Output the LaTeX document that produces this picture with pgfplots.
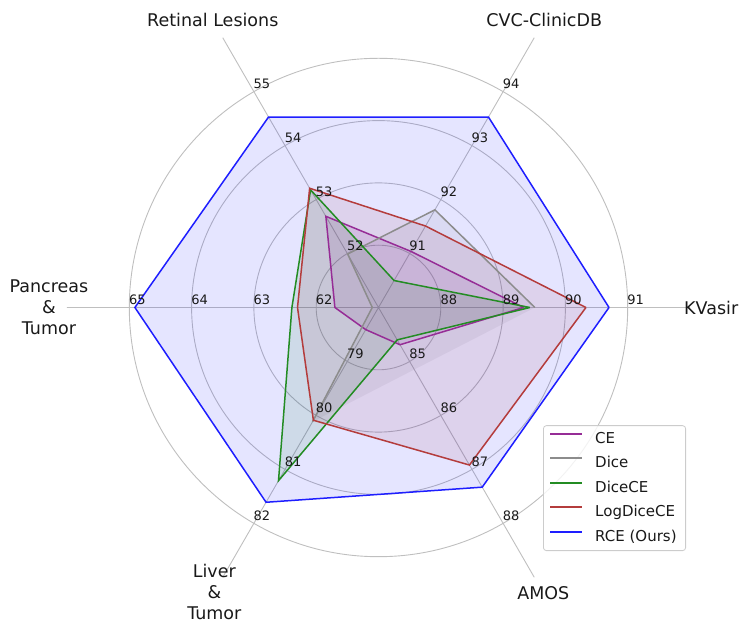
\documentclass[border=0pt]{standalone}
\usepackage{pgfplots}
\pgfplotsset{compat=1.18}
\usepgfplotslibrary{polar}
\usepackage{pgfplotstable}
\usepackage{fontspec}
\setmainfont{DejaVu Sans}

\definecolor{cCE}{RGB}{128,0,128}
\definecolor{cDice}{RGB}{128,128,128}
\definecolor{cDiceCE}{RGB}{0,128,0}
\definecolor{cLog}{RGB}{165,42,42}
\definecolor{cRCE}{RGB}{0,0,255}
\definecolor{lCE}{RGB}{150,45,150}
\definecolor{lDice}{RGB}{140,140,140}
\definecolor{lDiceCE}{RGB}{35,140,35}
\definecolor{lLog}{RGB}{180,60,60}
\definecolor{lRCE}{RGB}{30,30,255}
\definecolor{txt}{RGB}{25,25,25}

% Scores per dataset; each spoke has its own scale starting at "base"
% (one ring = one point). The first row is repeated to close the polygons.
\pgfplotstableread{
ang base CE    Dice  DiceCE LogDiceCE RCE
0   87   89.33 89.51 89.43  90.33     90.70
60  90   91.04 91.81 90.50  91.51     93.53
120 51   52.69 51.99 53.18  53.21     54.53
180 61   61.70 61.10 62.39  62.30     64.91
240 78   78.41 80.12 81.21  80.09     81.61
300 84   84.69 83.60 84.60  86.92     87.33
0   87   89.33 89.51 89.43  90.33     90.70
}\scores

\begin{document}
\begin{tikzpicture}
\path[use as bounding box] (0,0) rectangle (740pt,620pt);
\begin{polaraxis}[
  at={(378.5pt,312.5pt)}, anchor=center,
  width=623pt, height=623pt, scale only axis,
  ymin=0, ymax=5, xmin=0, xmax=360,
  xtick={0,60,...,300}, ytick={1,2,3,4},
  xticklabels={,,,,,}, yticklabels={,,,},
  major tick length=0pt,
  axis line style={draw=none},
  grid=major,
  major grid style={draw=black!25, line width=0.9pt},
  clip=false,
  legend cell align=left,
  legend image code/.code={\draw[#1] (0pt,5.5pt) -- (32pt,5.5pt);},
  legend style={
    at={(axis description cs:0.9936,0.311)}, anchor=north east,
    draw=black!20, line width=0.8pt, rounded corners=3pt,
    fill=white, fill opacity=0.8, text opacity=1,
    inner xsep=6pt, inner ysep=3pt, row sep=3.5pt,
    /tikz/every odd column/.append style={column sep=9pt},
    nodes={font=\fontsize{15}{18}\selectfont, text=txt, inner sep=3pt,
           text height=11.5pt, text depth=3.5pt},
  },
]
% translucent areas first, outlines on top
\addplot[forget plot, draw=none, fill=cCE, fill opacity=0.1]
  table[x=ang, y expr=\thisrow{CE}-\thisrow{base}] {\scores};
% Dice: its AMOS score lies below the scale of that spoke
\addplot[forget plot, draw=none, fill=cDice, fill opacity=0.1,
  restrict y to domain=0:5, unbounded coords=discard]
  table[x=ang, y expr=\thisrow{Dice}-\thisrow{base}] {\scores};
\addplot[forget plot, draw=none, fill=cDiceCE, fill opacity=0.1]
  table[x=ang, y expr=\thisrow{DiceCE}-\thisrow{base}] {\scores};
\addplot[forget plot, draw=none, fill=cLog, fill opacity=0.1]
  table[x=ang, y expr=\thisrow{LogDiceCE}-\thisrow{base}] {\scores};
\addplot[forget plot, draw=none, fill=cRCE, fill opacity=0.1]
  table[x=ang, y expr=\thisrow{RCE}-\thisrow{base}] {\scores};

\addplot[forget plot, draw=lCE, line width=1.5pt]
  table[x=ang, y expr=\thisrow{CE}-\thisrow{base}] {\scores};
\addplot[forget plot, draw=lDice, line width=1.5pt,
  restrict y to domain=0:5, unbounded coords=jump]
  table[x=ang, y expr=\thisrow{Dice}-\thisrow{base}] {\scores};
\addplot[forget plot, draw=lDiceCE, line width=1.5pt]
  table[x=ang, y expr=\thisrow{DiceCE}-\thisrow{base}] {\scores};
\addplot[forget plot, draw=lLog, line width=1.5pt]
  table[x=ang, y expr=\thisrow{LogDiceCE}-\thisrow{base}] {\scores};
\addplot[forget plot, draw=lRCE, line width=1.5pt]
  table[x=ang, y expr=\thisrow{RCE}-\thisrow{base}] {\scores};

\addlegendimage{draw=lCE, line width=1.8pt}
\addlegendentry{CE}
\addlegendimage{draw=lDice, line width=1.8pt}
\addlegendentry{Dice}
\addlegendimage{draw=lDiceCE, line width=1.8pt}
\addlegendentry{DiceCE}
\addlegendimage{draw=lLog, line width=1.8pt}
\addlegendentry{LogDiceCE}
\addlegendimage{draw=lRCE, line width=1.8pt}
\addlegendentry{RCE (Ours)}

% ring values on each spoke
\begin{scope}[every node/.style={font=\fontsize{13}{15}\selectfont, text=txt, xshift=8pt, yshift=7.5pt, inner sep=0pt}]
\node at (axis cs:0,1) {88};   \node at (axis cs:0,2) {89};
\node at (axis cs:0,3) {90};   \node at (axis cs:0,4) {91};
\node at (axis cs:60,1) {91};  \node at (axis cs:60,2) {92};
\node at (axis cs:60,3) {93};  \node at (axis cs:60,4) {94};
\node at (axis cs:120,1) {52}; \node at (axis cs:120,2) {53};
\node at (axis cs:120,3) {54}; \node at (axis cs:120,4) {55};
\node at (axis cs:180,1) {62}; \node at (axis cs:180,2) {63};
\node at (axis cs:180,3) {64}; \node at (axis cs:180,4) {65};
\node at (axis cs:240,1) {79}; \node at (axis cs:240,2) {80};
\node at (axis cs:240,3) {81}; \node at (axis cs:240,4) {82};
\node at (axis cs:300,1) {85}; \node at (axis cs:300,2) {86};
\node at (axis cs:300,3) {87}; \node at (axis cs:300,4) {88};
\end{scope}

% dataset names
\begin{scope}[every node/.style={font=\fontsize{17.5}{20.8}\selectfont, text=txt, align=center, inner sep=0pt}]
\node at (axis cs:0,5.34)   {KVasir};
\node at (axis cs:60,5.32)  {CVC-ClinicDB};
\node at (axis cs:120,5.32) {Retinal Lesions};
\node at (axis cs:180,5.29) {Pancreas\\\&\hspace*{11pt}\\Tumor};
\node at (axis cs:240,5.27) {Liver\\\&\\Tumor};
\node at (axis cs:300,5.29) {AMOS};
\end{scope}
\end{polaraxis}
\end{tikzpicture}
\end{document}
